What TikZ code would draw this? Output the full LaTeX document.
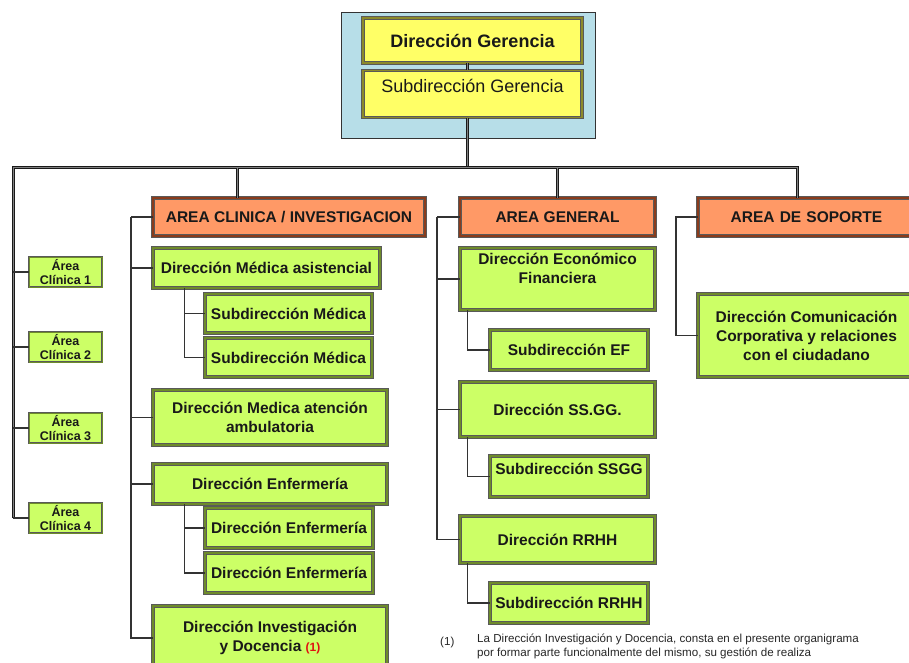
\documentclass[tikz,border=0pt]{standalone}
\usepackage{fontspec}
\setmainfont{Liberation Sans}
\definecolor{verdeclaro}{HTML}{CCFF66}
\definecolor{olivo}{HTML}{6E8B2A}
\definecolor{naranjo}{HTML}{FF9966}
\definecolor{marron}{HTML}{8A3C1C}
\definecolor{amarillito}{HTML}{FFFF66}
\definecolor{oliva}{HTML}{8C8A2A}
\definecolor{celeste}{HTML}{B7DEE8}
\definecolor{rojo}{HTML}{E01010}
\tikzset{
  caja/.style={draw=black!65, line width=0.9pt, double=#1, double distance=1.5pt,
    align=center, inner sep=2pt, text=black!90,
    font=\bfseries\fontsize{15.5}{19}\selectfont},
  verde/.style={caja=olivo, fill=verdeclaro},
  naranja/.style={caja=marron, fill=naranjo},
  amarillo/.style={caja=oliva, fill=amarillito},
  chica/.style={verde, line width=0.7pt, double distance=0.7pt, font=\bfseries\fontsize{12.5}{14.5}\selectfont},
  tronco/.style={draw=black!90, line width=1pt, double=black!50, double distance=1pt},
  enlace/.style={draw=black!80, line width=1.1pt},
}

\begin{document}
\begin{tikzpicture}[x=1pt, y=-1pt]
  \useasboundingbox (0,0) rectangle (909,663);

  % cabecera
  \node[draw=black!80, line width=0.8pt, fill=celeste, minimum width=254pt, minimum height=126pt] (cab) at (468,75) {};
  \node[amarillo, minimum width=219pt, minimum height=45pt, font=\bfseries\fontsize{18}{21}\selectfont] (dg) at (472.5,40.5) {Dirección Gerencia};
  \node[amarillo, anchor=north, minimum width=219pt, minimum height=47pt, text height=16pt, text depth=19pt,
    font=\fontsize{18}{21}\selectfont] (sg) at (472.5,70) {Subdirección Gerencia};

  % areas
  \node[naranja, minimum width=272pt, minimum height=38pt] (aci) at (289,217) {AREA CLINICA / INVESTIGACION};
  \node[naranja, minimum width=195pt, minimum height=38pt] (ag) at (557.5,217) {AREA GENERAL};
  \node[naranja, minimum width=227pt, minimum height=38pt, text width=210pt] (asop) at (811.5,217) {\hspace*{-10pt}AREA DE SOPORTE};

  % area clinica
  \node[chica, minimum width=73pt, minimum height=30pt] (ac1) at (65.5,272) {Área\\Clínica 1};
  \node[chica, minimum width=73pt, minimum height=30pt] (ac2) at (65.5,347) {Área\\Clínica 2};
  \node[chica, minimum width=73pt, minimum height=30pt] (ac3) at (65.5,428) {Área\\Clínica 3};
  \node[chica, minimum width=73pt, minimum height=30pt] (ac4) at (65.5,518) {Área\\Clínica 4};

  \node[verde, minimum width=227pt, minimum height=40pt] (dma) at (266.5,268) {Dirección Médica asistencial};
  \node[verde, minimum width=167pt, minimum height=39pt] (sm1) at (288.5,313.5) {Subdirección Médica};
  \node[verde, minimum width=167pt, minimum height=39pt] (sm2) at (288.5,357.5) {Subdirección Médica};
  \node[verde, minimum width=234pt, minimum height=55pt] (dmaa) at (270,417.5) {Dirección Medica atención\\ambulatoria};
  \node[verde, minimum width=234pt, minimum height=40pt] (de) at (270,484) {Dirección Enfermería};
  \node[verde, minimum width=168pt, minimum height=40pt] (de1) at (289,528) {Dirección Enfermería};
  \node[verde, minimum width=168pt, minimum height=40pt] (de2) at (289,573) {Dirección Enfermería};
  \node[verde, minimum width=234pt, minimum height=64pt] (did) at (270,638)
    {Dirección Investigación\\y Docencia {\color{rojo}\fontsize{12}{12}\selectfont(1)}};

  % area general
  \node[verde, minimum width=195pt, minimum height=62pt, text height=24pt, text depth=16pt] (def) at (557.5,279) {Dirección Económico\\Financiera};
  \node[verde, minimum width=158pt, minimum height=40pt] (sef) at (569,350) {Subdirección EF};
  \node[verde, minimum width=195pt, minimum height=55pt] (dss) at (557.5,409.5) {Dirección SS.GG.};
  \node[verde, minimum width=158pt, minimum height=41pt, text height=5pt, text depth=10pt] (sss) at (569,476.5) {Subdirección SSGG};
  \node[verde, minimum width=195pt, minimum height=47pt] (drh) at (557.5,539.5) {Dirección RRHH};
  \node[verde, minimum width=158pt, minimum height=40pt] (srh) at (569,603) {Subdirección RRHH};

  % area de soporte
  \node[verde, minimum width=227pt, minimum height=83pt] (dcc) at (811.5,335.5)
    {\hspace*{-10pt}Dirección Comunicación\\\hspace*{-10pt}Corporativa y relaciones\\\hspace*{-10pt}con el ciudadano};

  % lineas principales
  \coordinate (bus) at (467,168);
  \coordinate (busL) at (13,168);
  \coordinate (busR) at (797,168);
  \coordinate (bajaC) at (237,168);
  \draw[tronco] (dg.south -| bus) -- (sg.north -| bus);
  \draw[tronco] (sg.south -| bus) -- (bus);
  \draw[tronco] (busL |- ac4.west) -- (busL) -- (busR) -- (busR |- asop.north);
  \draw[tronco] (bajaC) -- (bajaC |- aci.north);
  \draw[tronco] (ag.north |- bus) -- (ag.north);

  \foreach \n in {ac1,ac2,ac3,ac4}
    \draw[enlace] (busL |- \n.west) -- (\n.west);

  % ramas area clinica
  \coordinate (ejeC) at (131,217);
  \draw[enlace] (ejeC) |- (did.west);
  \foreach \n in {aci,dma,dmaa,de}
    \draw[enlace] (ejeC |- \n.west) -- (\n.west);
  \draw[enlace] ([xshift=32pt]dma.south west) |- (sm1.west);
  \draw[enlace] ([xshift=32pt]dma.south west) |- (sm2.west);
  \draw[enlace] ([xshift=32pt]de.south west) |- (de1.west);
  \draw[enlace] ([xshift=32pt]de.south west) |- (de2.west);

  % ramas area general
  \coordinate (ejeG) at (437,217);
  \draw[enlace] (ejeG) |- (drh.west);
  \foreach \n in {ag,def,dss}
    \draw[enlace] (ejeG |- \n.west) -- (\n.west);
  \draw[enlace] ([xshift=8pt]def.south west) |- (sef.west);
  \draw[enlace] ([xshift=8pt]dss.south west) |- (sss.west);
  \draw[enlace] ([xshift=8pt]drh.south west) |- (srh.west);

  % rama soporte
  \coordinate (ejeS) at (676,217);
  \draw[enlace] (asop.west) -- (ejeS) |- (dcc.west);

  % nota
  \node[anchor=base west, font=\fontsize{11.6}{14}\selectfont, text=black!85, inner sep=0pt] (nota1) at (440,645) {(1)};
  \node[anchor=north west, align=left, font=\fontsize{11.6}{14}\selectfont, text=black!85, inner sep=0pt] (nota) at (477,634)
    {La Dirección Investigación y Docencia, consta en el presente organigrama\\por formar parte funcionalmente del mismo, su gestión de realiza};
\end{tikzpicture}
\end{document}
